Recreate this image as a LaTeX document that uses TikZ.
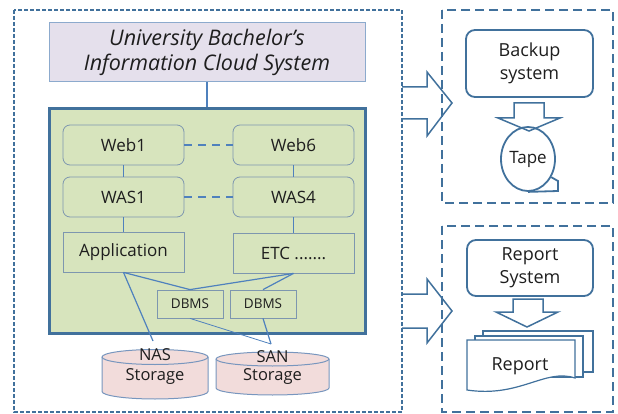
\documentclass[tikz,border=0pt]{standalone}
\usepackage{fontspec}
\setmainfont{Open Sans}
\usetikzlibrary{shapes.geometric}

\definecolor{dashblue}{RGB}{65,113,156}
\definecolor{titlefill}{RGB}{229,224,236}
\definecolor{titleedge}{RGB}{140,170,205}
\definecolor{tiergreen}{RGB}{215,228,189}
\definecolor{boxedge}{RGB}{125,150,175}
\definecolor{linkblue}{RGB}{79,129,189}
\definecolor{storefill}{RGB}{242,220,219}
\definecolor{storeedge}{RGB}{120,150,190}
\definecolor{textdark}{RGB}{30,30,30}

\begin{document}
\begin{tikzpicture}[x=1pt,y=-1pt,
  outerdash/.style={draw=dashblue, line width=2pt, dash pattern=on 4pt off 2pt},
  sidedash/.style={draw=dashblue, line width=1.8pt, dash pattern=on 9pt off 5pt},
  tier/.style={draw=boxedge, fill=tiergreen, line width=0.8pt, rounded corners=7pt,
    minimum width=121pt, minimum height=40pt, inner sep=0pt, text=textdark,
    font=\fontsize{17}{20}\selectfont},
  appbox/.style={tier, rounded corners=0pt},
  dbbox/.style={draw=boxedge, fill=tiergreen, line width=0.8pt, minimum width=66pt,
    minimum height=28pt, inner sep=0pt, text=textdark, font=\fontsize{13.5}{16}\selectfont},
  link/.style={draw=linkblue, line width=1.2pt},
  peer/.style={draw=linkblue, line width=1.6pt, dash pattern=on 8pt off 6pt},
  sysbox/.style={draw=dashblue, line width=1.8pt, rounded corners=9pt, align=center,
    inner sep=0pt, text=textdark, font=\fontsize{18}{23}\selectfont},
  blockarrow/.style={draw=dashblue, line width=1.5pt, line join=miter},
  storage/.style={fill=storefill, draw=storeedge, line width=1pt},
  label/.style={align=center, inner sep=0pt, text=textdark}]
\useasboundingbox (0,0) rectangle (618,414);

% dashed frames
\draw[outerdash] (14,10) rectangle (402,412);
\draw[sidedash] (442,10) rectangle (613,203);
\draw[sidedash] (442,226) rectangle (613,412);

% title and cloud platform
\node[draw=titleedge, fill=titlefill, line width=1pt, minimum width=316pt, minimum height=59pt,
  align=center, text=textdark, font=\itshape\fontsize{21.5}{25}\selectfont]
  (title) at (207,52.5) {University Bachelor's\\Information Cloud System};
\node[draw=dashblue, fill=tiergreen, line width=3pt, minimum width=316pt, minimum height=224pt]
  (cloud) at (207,221) {};
\draw[link] (title) -- (cloud);

% server tiers
\node[tier] (web1) at (123.5,145) {Web1};
\node[tier] (web6) at (293.5,145) {Web6};
\node[tier] (was1) at (123.5,197) {WAS1};
\node[tier] (was4) at (293.5,197) {WAS4};
\node[appbox] (app) at (123.5,252) {Application};
\node[appbox] (etc) at (293.5,253) {ETC .......};
\node[dbbox] (db1) at (190,304) {DBMS};
\node[dbbox] (db2) at (263,304) {DBMS};

\draw[peer] (web1) -- (web6);
\draw[peer] (was1) -- (was4);
\draw[link] (web1) -- (was1);
\draw[link] (web6) -- (was4);
\draw[link] (was1) -- (app);
\draw[link] (was4) -- (etc);

\coordinate (nasin) at (153,341);
\coordinate (sanin) at (271,344);
\draw[link] (app.south) -- (db1.north);
\draw[link] (etc.south) -- (db1.north);
\draw[link] (etc.south) -- (db2.north);
\draw[link] (app.south) -- (nasin);
\draw[link, line width=0.8pt] (db1.south) -- (sanin);
\draw[link] (db2.south) -- (sanin);

% storage cylinders
\path[storage] (102,357) -- (102,391.5) arc[start angle=180, end angle=360, x radius=53pt, y radius=7.5pt]
  -- (208,357) arc[start angle=0, end angle=180, x radius=53pt, y radius=7.5pt] -- cycle;
\draw[storeedge, line width=1pt] (102,357) arc[start angle=180, end angle=360, x radius=53pt, y radius=7.5pt];
\path[storage] (216,359) -- (216,388) arc[start angle=180, end angle=360, x radius=56.5pt, y radius=7pt]
  -- (329,359) arc[start angle=0, end angle=180, x radius=56.5pt, y radius=7pt] -- cycle;
\draw[storeedge, line width=1pt] (216,359) arc[start angle=180, end angle=360, x radius=56.5pt, y radius=7pt];
\node[label, font=\fontsize{16.5}{20}\selectfont] (nas) at (155,367) {NAS\\Storage};
\node[label, font=\fontsize{16.5}{18}\selectfont] (san) at (272.5,368) {SAN\\Storage};

% arrows out of the platform
\draw[blockarrow] (402,87) -- (427,87) -- (427,72) -- (452,103) -- (427,136) -- (427,119) -- (402,119);
\draw[blockarrow] (402,294) -- (427,294) -- (427,279) -- (452,311) -- (427,343) -- (427,328) -- (402,328);

% backup branch
\node[sysbox, minimum width=127pt, minimum height=67pt] (backup) at (529.5,63.5) {Backup\\system};
\draw[blockarrow] (514,103) -- (544,103) -- (544,118) -- (560,118) -- (529,131) -- (498,118) -- (514,118) -- cycle;
\node[ellipse, draw=dashblue, line width=1.8pt, minimum width=54pt, minimum height=64pt, inner sep=0pt,
  text=textdark, font=\fontsize{17}{20}\selectfont] (tape) at (528,159) {Tape};
\draw[dashblue, line width=1.8pt, line join=miter] (tape.south) -- (558,191) -- (558,181) -- (tape.-38);

% report branch
\node[sysbox, minimum width=126pt, minimum height=56pt] (report) at (530,268) {Report\\System};
\draw[blockarrow] (513,299) -- (543,299) -- (543,312) -- (558,312) -- (527,327) -- (496,312) -- (513,312) -- cycle;
\filldraw[fill=white, draw=dashblue, line width=1.2pt] (483,331) rectangle (593,372);
\filldraw[fill=white, draw=dashblue, line width=1.2pt] (475,336) rectangle (583,377);
\filldraw[fill=white, draw=dashblue, line width=1.2pt] (467,340) -- (575,340) -- (575,378)
  .. controls (545,368) and (520,398) .. (467,390) -- cycle;
\node[label, font=\fontsize{18}{22}\selectfont] (doc) at (520,366) {Report};
\end{tikzpicture}
\end{document}
